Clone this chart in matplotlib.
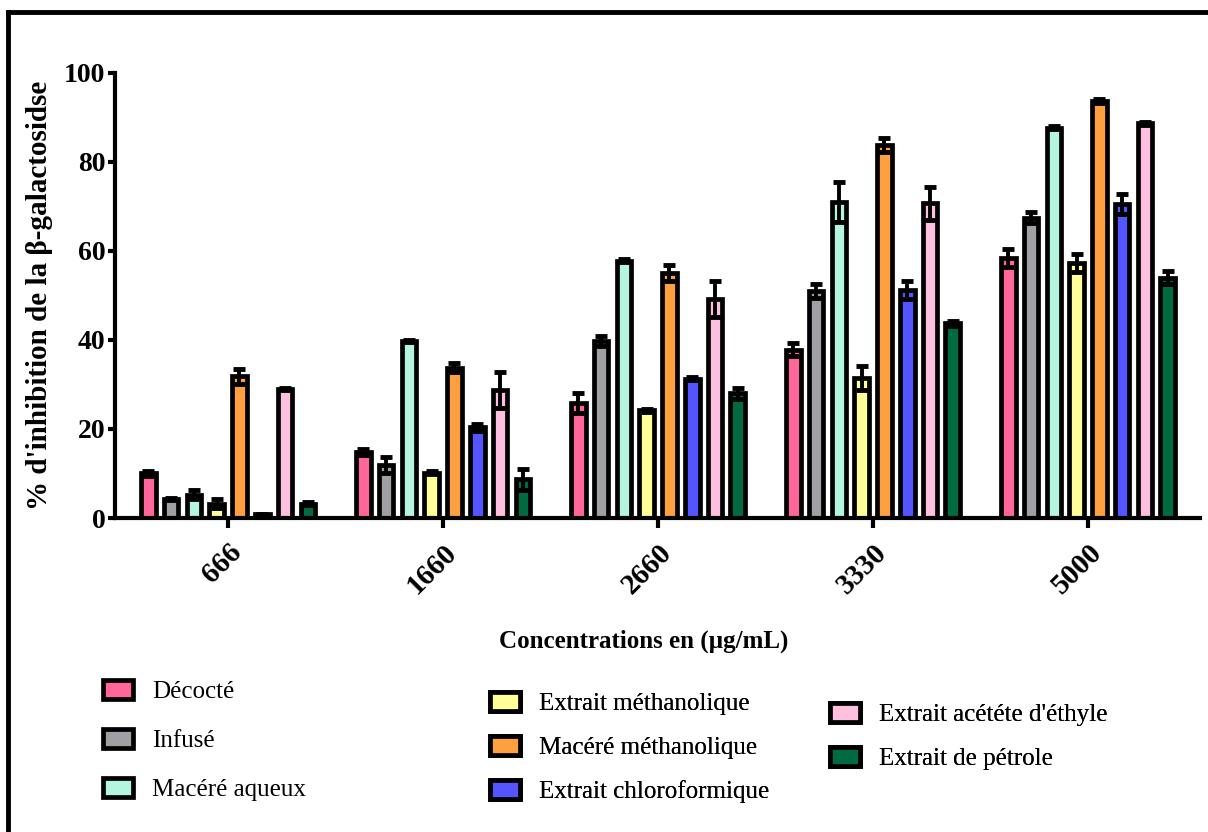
import matplotlib.pyplot as plt
import numpy as np
from matplotlib.lines import Line2D

plt.rcParams['font.family'] = ['Liberation Serif', 'DejaVu Serif']

concentrations = ['666', '1660', '2660', '3330', '5000']
series = ['Décocté', 'Infusé', 'Macéré aqueux', 'Extrait méthanolique',
          'Macéré méthanolique', 'Extrait chloroformique',
          "Extrait acététe d'éthyle", 'Extrait de pétrole']
colors = ['#FF6699', '#A0A0A4', '#B3F5DE', '#FFFF99',
          '#FFA040', '#5555FF', '#FFBFDF', '#006A40']

# valeurs moyennes (%) par série, une valeur par concentration
decocte = [10.0, 14.8, 25.8, 37.8, 58.5]
infuse = [4.3, 12.0, 39.8, 51.0, 67.5]
macere_aqueux = [5.2, 39.8, 57.8, 71.0, 87.7]
extrait_methanolique = [3.2, 10.2, 24.2, 31.5, 57.2]
macere_methanolique = [31.8, 33.8, 55.0, 83.8, 93.7]
extrait_chloroformique = [0.8, 20.4, 31.3, 51.3, 70.5]
extrait_acetate = [29.0, 28.7, 49.2, 70.7, 88.7]
extrait_petrole = [3.2, 8.7, 28.0, 43.7, 54.0]

# erreurs standard
err_decocte = [0.5, 0.6, 2.2, 1.5, 2.0]
err_infuse = [0.3, 1.8, 1.2, 1.5, 1.2]
err_macere_aqueux = [1.0, 0.3, 0.3, 4.5, 0.3]
err_extrait_methanolique = [1.0, 0.3, 0.3, 2.7, 2.0]
err_macere_methanolique = [1.7, 1.0, 1.8, 1.5, 0.5]
err_extrait_chloroformique = [0.2, 0.8, 0.3, 2.0, 2.2]
err_extrait_acetate = [0.3, 4.0, 4.0, 3.7, 0.3]
err_extrait_petrole = [0.3, 2.3, 1.3, 0.6, 1.5]

values = [decocte, infuse, macere_aqueux, extrait_methanolique,
          macere_methanolique, extrait_chloroformique, extrait_acetate, extrait_petrole]
errors = [err_decocte, err_infuse, err_macere_aqueux, err_extrait_methanolique,
          err_macere_methanolique, err_extrait_chloroformique, err_extrait_acetate,
          err_extrait_petrole]

fig = plt.figure(figsize=(12.08, 8.32), dpi=100)
ax = fig.add_axes([0.0952, 0.3774, 0.898, 0.535])

x = np.arange(len(concentrations))
pitch = 0.106
width = 0.068
handles = []
for i in range(len(series)):
    pos = x + (i - 3.5) * pitch
    b = ax.bar(pos, values[i], width, color=colors[i], edgecolor='black',
               linewidth=3.4, label=series[i], zorder=2)
    ax.errorbar(pos, values[i], yerr=errors[i], fmt='none', ecolor='black',
                elinewidth=2.8, capsize=4, capthick=3.5, zorder=3)
    handles.append(b)

ax.set_xlim(-0.526, 4.52)
ax.set_ylim(0, 100)
ax.set_yticks([0, 20, 40, 60, 80, 100])
ax.set_xticks(x)
ax.set_xticklabels(concentrations, rotation=45, ha='right', rotation_mode='anchor',
                   fontsize=21, fontweight='bold')
for lab in ax.get_yticklabels():
    lab.set_fontsize(20)
    lab.set_fontweight('bold')
ax.spines['top'].set_visible(False)
ax.spines['right'].set_visible(False)
ax.spines['left'].set_linewidth(3)
ax.spines['bottom'].set_linewidth(3)
ax.tick_params(axis='y', width=3, length=5, pad=2, direction='out')
ax.tick_params(axis='x', width=3, length=7, pad=8, direction='out')

ax.set_ylabel("% d'inhibition de la β-galactosidse", fontsize=21,
              fontweight='bold', labelpad=8)
ax.set_xlabel('Concentrations en (µg/mL)', fontsize=18, fontweight='bold')
ax.xaxis.set_label_coords(0.487, -0.25)

# légende en trois colonnes
cols = [(0, 3, 0.0853, 0.183, 1.03), (3, 6, 0.4056, 0.168, 0.83), (6, 8, 0.687, 0.155, 0.83)]
for start, stop, xa, ya, sp in cols:
    leg = fig.legend(handles[start:stop], series[start:stop],
                     loc='upper left', bbox_to_anchor=(xa, ya),
                     bbox_transform=fig.transFigure, frameon=False,
                     fontsize=18, handlelength=1.2, handleheight=0.8,
                     labelspacing=sp, handletextpad=0.75,
                     borderpad=0, borderaxespad=0)
    if start != 0:
        fig.add_artist(leg)

# cadre : seulement en haut et à gauche
fig.add_artist(Line2D([0.007, 1.0], [0.986, 0.986], transform=fig.transFigure,
                      color='black', linewidth=3.5))
fig.add_artist(Line2D([0.007, 0.007], [0.0, 0.986], transform=fig.transFigure,
                      color='black', linewidth=3.5))

fig.savefig('out.png', dpi=100)
